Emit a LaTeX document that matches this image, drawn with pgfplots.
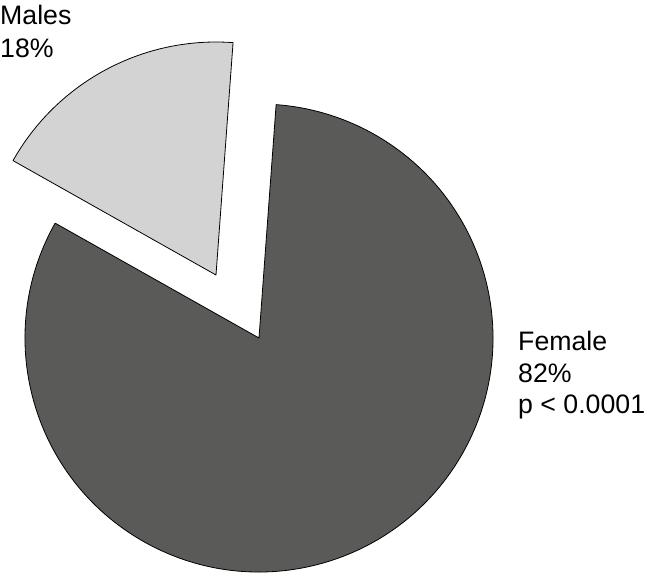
\documentclass[border=0pt]{standalone}
\usepackage{fontspec}
\setmainfont{Liberation Sans}
\usepackage{pgfplots}
\pgfplotsset{compat=1.18}
\definecolor{femalegray}{HTML}{5A5A59}
\definecolor{malegray}{HTML}{D3D3D3}

% shares in percent
\def\female{82}
\def\male{18}
\def\startangle{85.8}

\begin{document}
\begin{tikzpicture}
\useasboundingbox (0,0) rectangle (656bp,573bp);
\pgfmathsetmacro{\split}{\startangle+3.6*\male}
\pgfmathsetmacro{\stop}{\split+3.6*\female}
\begin{axis}[
    at={(0,0)}, anchor=origin,
    x=1bp, y=1bp,
    xmin=0, xmax=656,
    ymin=0, ymax=573,
    hide axis,
    clip=false,
]
% female slice
\fill[femalegray, draw=black, line width=0.8pt, line join=round]
    (axis cs:259,235) -- ++(\split:234bp)
    arc[start angle=\split, end angle=\stop, radius=234bp] -- cycle;
% male slice, pulled out
\fill[malegray, draw=black, line width=0.8pt, line join=round]
    (axis cs:216,298) -- ++(\startangle:233bp)
    arc[start angle=\startangle, end angle=\split, radius=233bp] -- cycle;
\node[anchor=base west, inner sep=0pt, font=\fontsize{26.8}{31}\selectfont] at (axis cs:0,549) {Males};
\node[anchor=base west, inner sep=0pt, font=\fontsize{26.8}{31}\selectfont] at (axis cs:0,516) {18\%};
\node[anchor=base west, inner sep=0pt, font=\fontsize{26.8}{31}\selectfont] at (axis cs:518,223) {Female};
\node[anchor=base west, inner sep=0pt, font=\fontsize{26.8}{31}\selectfont] at (axis cs:518,191) {82\%};
\node[anchor=base west, inner sep=0pt, font=\fontsize{26.8}{31}\selectfont] at (axis cs:518,160) {p < 0.0001};
\end{axis}
\end{tikzpicture}
\end{document}
